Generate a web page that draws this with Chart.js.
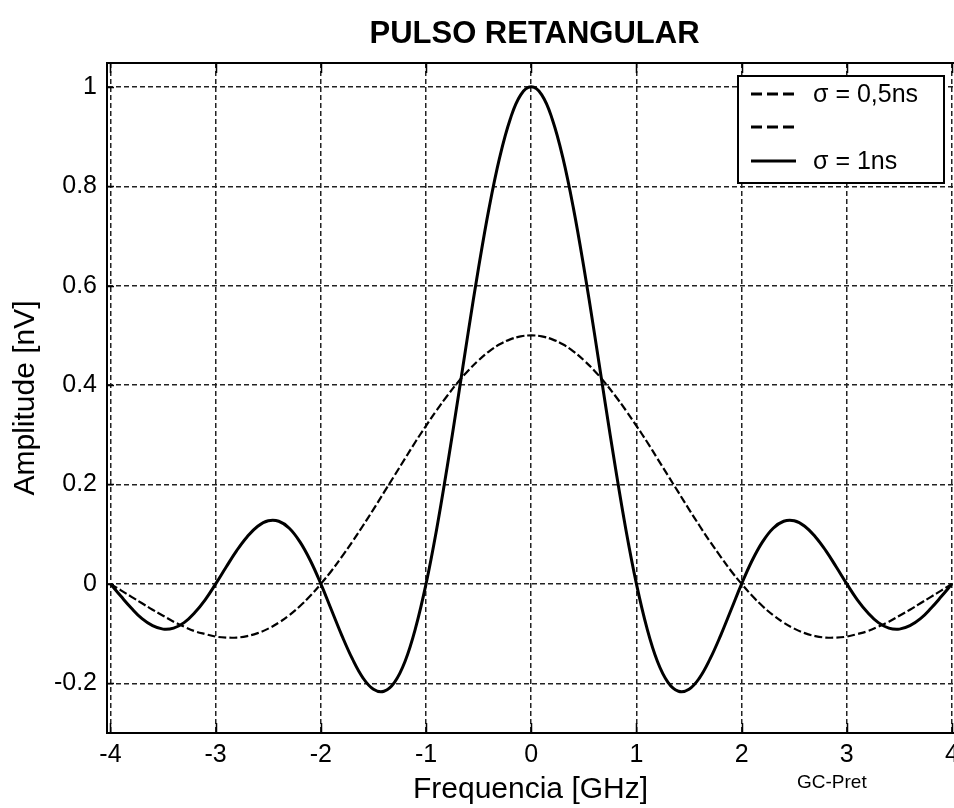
<!DOCTYPE html>
<html>
<head>
<meta charset="utf-8">
<title>Pulso retangular</title>
<script src="https://cdn.jsdelivr.net/npm/chart.js@4/dist/chart.umd.min.js"></script>
<style>
    html, body { margin: 0; padding: 0; background: #fff; }
    canvas { display: block; }
</style>
</head>
<body>
<canvas id="pulseChart" width="954" height="808"></canvas>
<script>
// Espectro de um pulso retangular: dois valores de sigma.

const chartTitle = 'PULSO RETANGULAR';
const xAxisTitle = 'Frequencia [GHz]';
const yAxisTitle = 'Amplitude [nV]';
const footNote = 'GC-Pret';

const freq = [
    -4.0, -3.9, -3.8, -3.7, -3.6, -3.5, -3.4, -3.3, -3.2, -3.1,
    -3.0, -2.9, -2.8, -2.7, -2.6, -2.5, -2.4, -2.3, -2.2, -2.1,
    -2.0, -1.9, -1.8, -1.7, -1.6, -1.5, -1.4, -1.3, -1.2, -1.1,
    -1.0, -0.9, -0.8, -0.7, -0.6, -0.5, -0.4, -0.3, -0.2, -0.1,
    0.0,
    0.1, 0.2, 0.3, 0.4, 0.5, 0.6, 0.7, 0.8, 0.9, 1.0,
    1.1, 1.2, 1.3, 1.4, 1.5, 1.6, 1.7, 1.8, 1.9, 2.0,
    2.1, 2.2, 2.3, 2.4, 2.5, 2.6, 2.7, 2.8, 2.9, 3.0,
    3.1, 3.2, 3.3, 3.4, 3.5, 3.6, 3.7, 3.8, 3.9, 4.0,
];

// sigma = 0,5ns (tracejada)
const ampHalfNs = [
    0.000, -0.013, -0.026, -0.039, -0.052, -0.064, -0.076, -0.086, -0.095, -0.101,
    -0.106, -0.108, -0.108, -0.105, -0.099, -0.090, -0.078, -0.063, -0.045, -0.024,
    0.000, 0.026, 0.055, 0.085, 0.117, 0.150, 0.184, 0.218, 0.252, 0.286,
    0.318, 0.349, 0.378, 0.405, 0.429, 0.450, 0.468, 0.482, 0.492, 0.498,
    0.500,
    0.498, 0.492, 0.482, 0.468, 0.450, 0.429, 0.405, 0.378, 0.349, 0.318,
    0.286, 0.252, 0.218, 0.184, 0.150, 0.117, 0.085, 0.055, 0.026, 0.000,
    -0.024, -0.045, -0.063, -0.078, -0.090, -0.099, -0.105, -0.108, -0.108, -0.106,
    -0.101, -0.095, -0.086, -0.076, -0.064, -0.052, -0.039, -0.026, -0.013, 0.000,
];

// sigma = 1ns (continua)
const ampOneNs = [
    0.000, -0.025, -0.049, -0.070, -0.084, -0.091, -0.089, -0.078, -0.058, -0.032,
    0.000, 0.034, 0.067, 0.095, 0.116, 0.127, 0.126, 0.112, 0.085, 0.047,
    0.000, -0.052, -0.104, -0.151, -0.189, -0.212, -0.216, -0.198, -0.156, -0.089,
    0.000, 0.109, 0.234, 0.368, 0.505, 0.637, 0.757, 0.858, 0.935, 0.984,
    1.000,
    0.984, 0.935, 0.858, 0.757, 0.637, 0.505, 0.368, 0.234, 0.109, 0.000,
    -0.089, -0.156, -0.198, -0.216, -0.212, -0.189, -0.151, -0.104, -0.052, 0.000,
    0.047, 0.085, 0.112, 0.126, 0.127, 0.116, 0.095, 0.067, 0.034, 0.000,
    -0.032, -0.058, -0.078, -0.089, -0.091, -0.084, -0.070, -0.049, -0.025, 0.000,
];

const xTicks = [-4, -3, -2, -1, 0, 1, 2, 3, 4];
const yTicks = [-0.2, 0, 0.2, 0.4, 0.6, 0.8, 1];

// legenda: a segunda linha repete o traço da primeira, sem texto
const legendLabels = ['σ = 0,5ns', '', 'σ = 1ns'];
const legendSeries = [0, 0, 1];

const FONT = '"Liberation Sans", Arial, Helvetica, sans-serif';

// titulo, moldura superior, marcas internas e legenda
const framePlugin = {
    id: 'frame',
    afterDatasetsDraw(chart) {
        const { ctx, chartArea: area, scales } = chart;
        ctx.save();
        ctx.strokeStyle = '#000';
        ctx.setLineDash([]);

        ctx.lineWidth = 2;
        ctx.beginPath();
        ctx.moveTo(area.left, area.top);
        ctx.lineTo(area.right, area.top);
        ctx.stroke();

        ctx.lineWidth = 1.5;
        xTicks.forEach((v) => {
            const px = Math.round(scales.x.getPixelForValue(v)) + 0.5;
            ctx.beginPath();
            ctx.moveTo(px, area.bottom);
            ctx.lineTo(px, area.bottom - 10);
            ctx.moveTo(px, area.top);
            ctx.lineTo(px, area.top + 10);
            ctx.stroke();
        });
        yTicks.forEach((v) => {
            const py = Math.round(scales.y.getPixelForValue(v)) + 0.5;
            ctx.beginPath();
            ctx.moveTo(area.left, py);
            ctx.lineTo(area.left + 7, py);
            ctx.stroke();
        });
        ctx.restore();
    },
    afterDraw(chart) {
        const { ctx, chartArea: area } = chart;
        ctx.save();
        ctx.fillStyle = '#000';
        ctx.textBaseline = 'middle';
        ctx.textAlign = 'center';
        ctx.font = 'bold 31px ' + FONT;
        ctx.fillText(chartTitle, (area.left + area.right) / 2 + 4, 34);

        ctx.textAlign = 'left';
        ctx.font = '19px ' + FONT;
        ctx.fillText(footNote, 797, 783);

        // caixa da legenda
        const bx = 738, by = 76, bw = 206, bh = 107;
        ctx.fillStyle = '#fff';
        ctx.fillRect(bx, by, bw, bh);
        ctx.strokeStyle = '#000';
        ctx.lineWidth = 2;
        ctx.strokeRect(bx, by, bw, bh);

        const rowY = [94, 127, 161];
        legendLabels.forEach((label, i) => {
            const ds = chart.data.datasets[legendSeries[i]];
            ctx.lineWidth = 3;
            ctx.setLineDash(ds.borderDash && ds.borderDash.length ? [11, 5] : []);
            ctx.beginPath();
            ctx.moveTo(751, rowY[i]);
            ctx.lineTo(796, rowY[i]);
            ctx.stroke();
            ctx.setLineDash([]);
            if (label) {
                ctx.fillStyle = '#000';
                ctx.font = '25px ' + FONT;
                ctx.fillText(label, 813, rowY[i] + 1);
            }
        });
        ctx.restore();
    },
};

new Chart(document.getElementById('pulseChart'), {
    type: 'line',
    data: {
        datasets: [
            {
                label: legendLabels[0],
                data: freq.map((f, i) => ({ x: f, y: ampHalfNs[i] })),
                borderColor: '#000',
                borderWidth: 2.2,
                borderDash: [8, 3],
                pointRadius: 0,
                tension: 0.4,
                fill: false,
            },
            {
                label: legendLabels[2],
                data: freq.map((f, i) => ({ x: f, y: ampOneNs[i] })),
                borderColor: '#000',
                borderWidth: 3,
                pointRadius: 0,
                tension: 0.4,
                fill: false,
            },
        ],
    },
    options: {
        responsive: false,
        animation: false,
        layout: { padding: { top: 63, left: 0, right: 0, bottom: 0 } },
        plugins: {
            legend: { display: false },
            title: { display: false },
            tooltip: { enabled: false },
        },
        scales: {
            x: {
                type: 'linear',
                min: -4.033,
                max: 4.019,
                afterBuildTicks: (scale) => { scale.ticks = xTicks.map((v) => ({ value: v })); },
                afterFit: (scale) => {
                    scale.paddingLeft = 0;
                    scale.paddingRight = 0;
                    scale.height = 75;
                },
                grid: { color: '#222', lineWidth: 1.5, drawTicks: false },
                border: { display: true, color: '#000', width: 2, dash: [5, 3] },
                ticks: {
                    autoSkip: false,
                    maxRotation: 0,
                    padding: 7,
                    color: '#000',
                    font: { family: FONT, size: 25 },
                    callback: (v) => String(v),
                },
                title: {
                    display: true,
                    text: xAxisTitle,
                    color: '#000',
                    font: { family: FONT, size: 30 },
                    padding: { top: 0, bottom: 0 },
                },
            },
            y: {
                type: 'linear',
                min: -0.3,
                max: 1.048,
                afterBuildTicks: (scale) => { scale.ticks = yTicks.map((v) => ({ value: v })); },
                afterFit: (scale) => { scale.width = 107; },
                grid: { color: '#222', lineWidth: 1.5, drawTicks: false },
                border: { display: true, color: '#000', width: 2, dash: [5, 3] },
                ticks: {
                    autoSkip: false,
                    padding: 10,
                    color: '#000',
                    font: { family: FONT, size: 25 },
                    callback: (v) => String(v),
                },
                title: {
                    display: true,
                    text: yAxisTitle,
                    color: '#000',
                    font: { family: FONT, size: 30 },
                    padding: { top: 8, bottom: 0 },
                },
            },
        },
    },
    plugins: [framePlugin],
});
</script>
</body>
</html>
